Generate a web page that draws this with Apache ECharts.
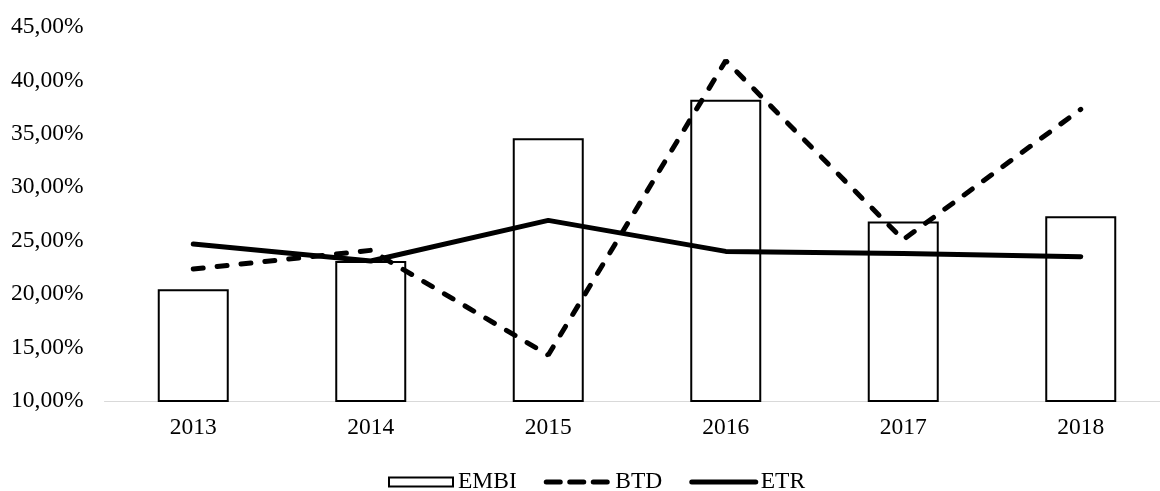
<!DOCTYPE html>
<html>
<head>
<meta charset="utf-8">
<script src="https://cdn.jsdelivr.net/npm/echarts@6/dist/echarts.min.js"></script>
<style>
html,body{margin:0;padding:0;background:#fff;overflow:hidden;width:1160px;height:491px;}
#chart{width:1170px;height:491px;}
</style>
</head>
<body>
<div id="chart"></div>
<script>
const categories = ['2013', '2014', '2015', '2016', '2017', '2018'];
const embi = [20.45, 23.1, 34.6, 38.2, 26.8, 27.3];
const btd = [22.35, 24.1, 14.3, 41.85, 25.1, 37.3];
const etr = [24.7, 23.1, 26.9, 24.0, 23.8, 23.5];
const yTicks = { min: 10, max: 45, interval: 5 };

const FONT = 'Liberation Serif';
const chart = echarts.init(document.getElementById('chart'), null, { renderer: 'canvas', width: 1170, height: 491 });
chart.setOption({
  animation: false,
  backgroundColor: '#ffffff',
  textStyle: { fontFamily: FONT, color: '#000' },
  grid: { left: 104.5, width: 1065, top: 27, height: 374, containLabel: false },
  legend: {
    left: 383,
    top: 465,
    itemWidth: 64,
    itemHeight: 9,
    itemGap: 27,
    textStyle: { fontFamily: FONT, fontSize: 23.5, color: '#000' },
    data: [
      { name: 'EMBI', icon: 'rect' },
      { name: 'BTD', itemStyle: { opacity: 0 }, lineStyle: { color: '#000', width: 5, type: [14, 9.5], cap: 'round' } },
      { name: 'ETR', itemStyle: { opacity: 0 }, lineStyle: { color: '#000', width: 5, cap: 'round' } }
    ]
  },
  xAxis: {
    type: 'category',
    data: categories,
    axisLine: { lineStyle: { color: '#d9d9d9', width: 1 } },
    axisTick: { show: false },
    axisLabel: { fontFamily: FONT, fontSize: 23.5, color: '#000', margin: 15 },
    splitLine: { show: false }
  },
  yAxis: {
    type: 'value',
    min: yTicks.min,
    max: yTicks.max,
    interval: yTicks.interval,
    axisLine: { show: false },
    axisTick: { show: false },
    splitLine: { show: false },
    axisLabel: {
      fontFamily: FONT, fontSize: 23.5, color: '#000', margin: 21,
      formatter: v => v.toFixed(2).replace('.', ',') + '%'
    }
  },
  series: [
    {
      name: 'EMBI', type: 'bar', data: embi, barWidth: 71,
      itemStyle: { color: '#ffffff', borderColor: '#000000', borderWidth: 2 }
    },
    {
      name: 'BTD', type: 'line', data: btd, symbol: 'none',
      lineStyle: { color: '#000', width: 5, type: [10, 14], cap: 'round' },
      itemStyle: { color: '#000' }
    },
    {
      name: 'ETR', type: 'line', data: etr, symbol: 'none',
      lineStyle: { color: '#000', width: 5, cap: 'round' },
      itemStyle: { color: '#000' }
    }
  ]
});
</script>
</body>
</html>
